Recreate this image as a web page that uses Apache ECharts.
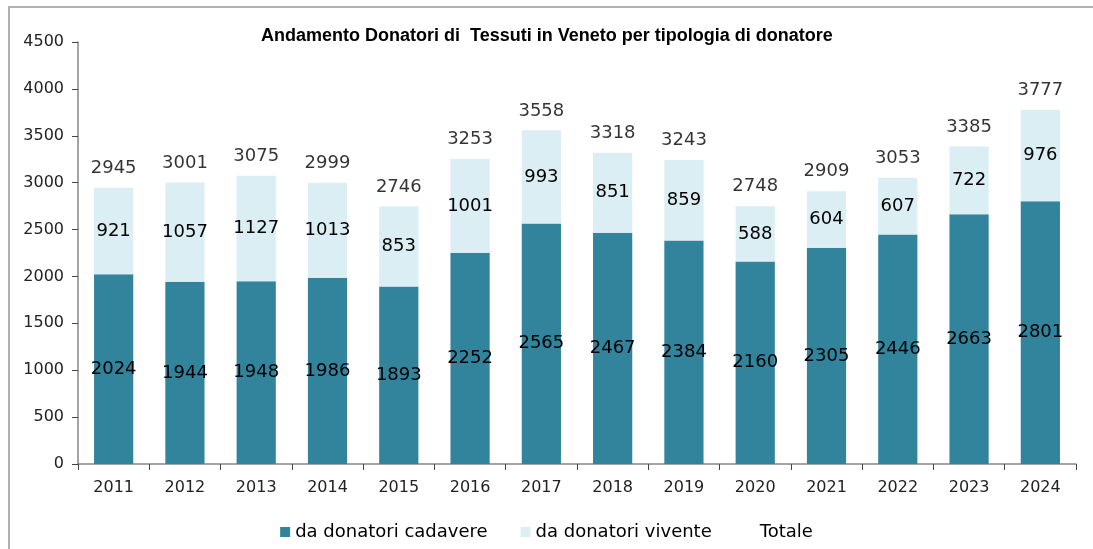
<!DOCTYPE html>
<html>
<head>
<meta charset="utf-8">
<script src="https://cdn.jsdelivr.net/npm/echarts@6/dist/echarts.min.js"></script>
<style>
html,body{margin:0;padding:0;background:#fff;overflow:hidden;}
#frame{position:absolute;left:8px;top:6px;width:1100px;height:560px;border:2px solid #b0b0b0;box-sizing:border-box;}
#chart{position:absolute;left:0;top:0;width:1093px;height:549px;}
</style>
</head>
<body>
<div id="frame"></div>
<div id="chart"></div>
<script>
const categories = ['2011','2012','2013','2014','2015','2016','2017','2018','2019','2020','2021','2022','2023','2024'];
const cadavere = [2024,1944,1948,1986,1893,2252,2565,2467,2384,2160,2305,2446,2663,2801];
const vivente = [921,1057,1127,1013,853,1001,993,851,859,588,604,607,722,976];
const totale = [2945,3001,3075,2999,2746,3253,3558,3318,3243,2748,2909,3053,3385,3777];
const yTicks = [0,500,1000,1500,2000,2500,3000,3500,4000,4500];

const chart = echarts.init(document.getElementById('chart'), null, {renderer:'canvas'});
const axisGray = '#868686';
const labelFont = {fontFamily:'DejaVu Sans', fontSize:18, color:'#000'};
chart.setOption({
  animation:false,
  backgroundColor:'transparent',
  title:{
    text:'Andamento Donatori di  Tessuti in Veneto per tipologia di donatore',
    left:256, top:22,
    textStyle:{fontFamily:'Liberation Sans', fontWeight:'bold', fontSize:18, color:'#000'}
  },
  grid:{left:78, right:17, top:42, bottom:85, containLabel:false},
  legend:{
    bottom:3, left:'center',
    itemWidth:10, itemHeight:10, itemGap:33,
    textStyle:{fontFamily:'DejaVu Sans', fontSize:18, color:'#000'},
    data:[
      {name:'da donatori cadavere', icon:'rect'},
      {name:'da donatori vivente', icon:'rect'},
      {name:'Totale', icon:'rect', itemStyle:{color:'rgba(0,0,0,0)', opacity:0}}
    ]
  },
  xAxis:{
    type:'category', data:categories,
    axisLine:{lineStyle:{color:axisGray, width:1.5}},
    axisTick:{show:true, length:6, alignWithLabel:false, lineStyle:{color:'#444'}},
    axisLabel:{fontFamily:'DejaVu Sans', fontSize:16, color:'#222', margin:16}
  },
  yAxis:{
    type:'value', min:yTicks[0], max:yTicks[yTicks.length-1], interval:500,
    axisLine:{show:true, lineStyle:{color:axisGray, width:1.5}},
    axisTick:{show:true, length:6, lineStyle:{color:'#444'}},
    splitLine:{show:false},
    axisLabel:{fontFamily:'DejaVu Sans', fontSize:16, color:'#222', margin:14, formatter:v=>String(v)}
  },
  series:[
    {name:'da donatori cadavere', type:'bar', stack:'t', data:cadavere, barWidth:'55%',
     itemStyle:{color:'#31849B'},
     label:{show:true, position:'inside', ...labelFont}},
    {name:'da donatori vivente', type:'bar', stack:'t', data:vivente,
     itemStyle:{color:'#DAEEF3'},
     label:{show:true, position:'inside', ...labelFont}},
    {name:'Totale', type:'scatter', data:totale, symbolSize:1,
     itemStyle:{color:'rgba(0,0,0,0)'},
     label:{show:true, position:'top', distance:10, ...labelFont}}
  ]
});
</script>
</body>
</html>
